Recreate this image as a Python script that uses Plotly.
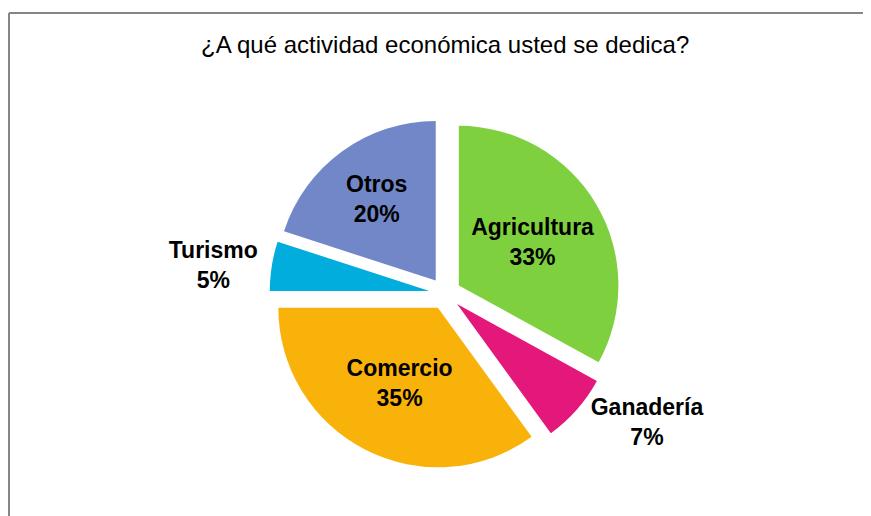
import plotly.graph_objects as go

categories = ["Agricultura", "Ganadería", "Comercio", "Turismo", "Otros"]
values = [33, 7, 35, 5, 20]
colors = ["#7ED03F", "#E3187A", "#F9B20A", "#00ADDC", "#7187C7"]
text_positions = ["inside", "outside", "inside", "outside", "inside"]
title_text = "¿A qué actividad económica usted se dedica?"

# page has an 8px body margin; figure fills the rest of the 871x516 window
W, H = 863, 508
FONT = "Liberation Sans, Arial, sans-serif"

fig = go.Figure(go.Pie(
    labels=categories,
    values=values,
    sort=False,
    direction="clockwise",
    rotation=0,
    pull=[0.1] * len(values),
    marker=dict(colors=colors, line=dict(width=0)),
    texttemplate="<b>%{label}<br>%{value}%</b>",
    textposition=text_positions,
    textfont=dict(family=FONT, size=23, color="black"),
    insidetextorientation="horizontal",
    automargin=False,
    showlegend=False,
    hoverinfo="label+percent",
    domain=dict(x=[0.1, 0.913], y=[1 - 461 / H, 1 - 110 / H]),
))

fig.update_layout(
    width=W, height=H,
    margin=dict(l=0, r=0, t=0, b=0, autoexpand=False),
    paper_bgcolor="white",
    plot_bgcolor="white",
    annotations=[dict(
        text=title_text, x=437 / W, y=1 - 37 / H, xref="paper", yref="paper",
        showarrow=False, xanchor="center", yanchor="middle",
        font=dict(family=FONT, size=24, color="black"),
    )],
    shapes=[
        dict(type="line", xref="paper", yref="paper",
             x0=1 / W, x1=1, y0=1 - 5 / H, y1=1 - 5 / H,
             line=dict(color="#868686", width=2)),
        dict(type="line", xref="paper", yref="paper",
             x0=1 / W, x1=1 / W, y0=0, y1=1 - 5 / H,
             line=dict(color="#868686", width=2)),
    ],
)

fig.write_html("out.html")
